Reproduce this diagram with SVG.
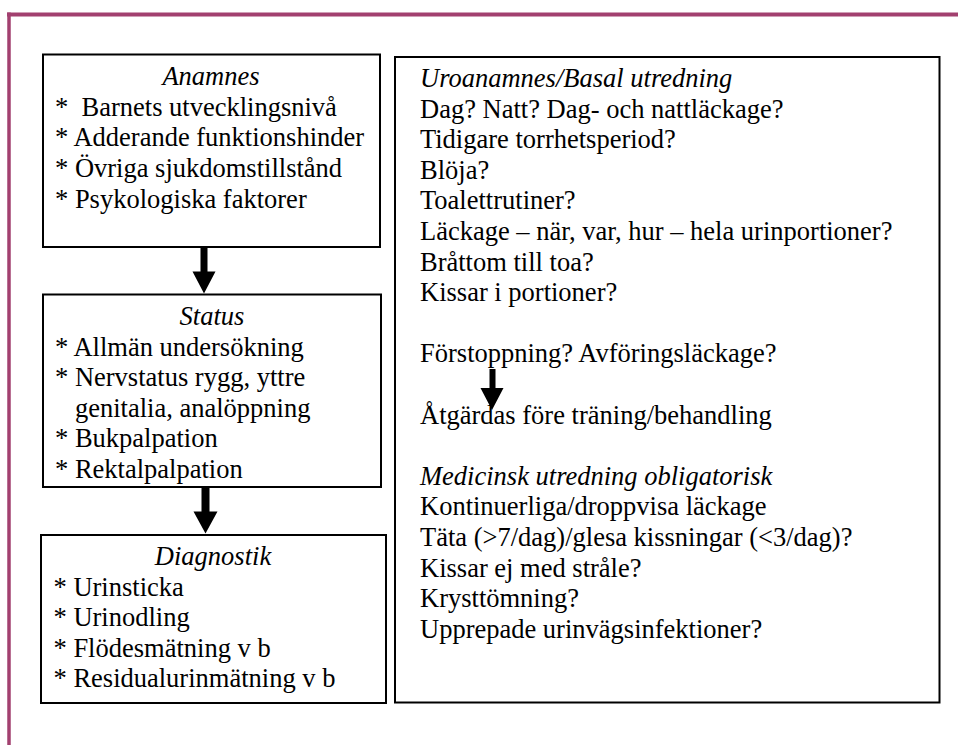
<svg xmlns="http://www.w3.org/2000/svg" width="958" height="745" viewBox="0 0 958 745">
<style>
  text { font-family: "Liberation Serif", "Times New Roman", serif; font-size: 26.5px; fill: #000; }
  .it { font-style: italic; }
  .mid { text-anchor: middle; }
  .box { fill: #fff; stroke: #000; stroke-width: 2; }
  .frame { stroke: #A2406F; fill: none; }
  .arrow { fill: #000; stroke: none; }
</style>
<rect width="958" height="745" fill="#fff"/>
<g id="frame">
  <line class="frame" x1="7" y1="14.5" x2="958" y2="14.5" stroke-width="4"/>
  <line class="frame" x1="9" y1="12.5" x2="9" y2="745" stroke-width="3.5"/>
</g>
<g id="anamnes">
  <rect class="box" x="43" y="54.5" width="337" height="192.5"/>
  <text class="it mid" x="211" y="85">Anamnes</text>
  <text x="55" y="115.6" xml:space="preserve">*  Barnets utvecklingsnivå</text>
  <text x="55" y="146.3">* Adderande funktionshinder</text>
  <text x="55" y="176.9">* Övriga sjukdomstillstånd</text>
  <text x="55" y="207.5">* Psykologiska faktorer</text>
</g>
<g id="status">
  <rect class="box" x="43" y="294.5" width="338" height="192.5"/>
  <text class="it mid" x="212" y="325">Status</text>
  <text x="55" y="355.6">* Allmän undersökning</text>
  <text x="55" y="386.2">* Nervstatus rygg, yttre</text>
  <text x="75" y="416.8">genitalia, analöppning</text>
  <text x="55" y="447.4">* Bukpalpation</text>
  <text x="55" y="478">* Rektalpalpation</text>
</g>
<g id="diagnostik">
  <rect class="box" x="41" y="535" width="345" height="168"/>
  <text class="it mid" x="213" y="565">Diagnostik</text>
  <text x="53.5" y="595.6">* Urinsticka</text>
  <text x="53.5" y="626.2">* Urinodling</text>
  <text x="53.5" y="656.8">* Flödesmätning v b</text>
  <text x="53.5" y="687.4">* Residualurinmätning v b</text>
</g>
<g id="uroanamnes">
  <rect class="box" x="395" y="57" width="544.5" height="645.5"/>
  <text class="it" x="420" y="87">Uroanamnes/Basal utredning</text>
  <text x="420" y="117.6">Dag? Natt? Dag- och nattläckage?</text>
  <text x="420" y="148.2">Tidigare torrhetsperiod?</text>
  <text x="420" y="178.8">Blöja?</text>
  <text x="420" y="209.4">Toalettrutiner?</text>
  <text x="420" y="240">Läckage – när, var, hur – hela urinportioner?</text>
  <text x="420" y="270.6">Bråttom till toa?</text>
  <text x="420" y="301.2">Kissar i portioner?</text>
  <text x="420" y="362.4">Förstoppning? Avföringsläckage?</text>
  <text x="420" y="423.6">Åtgärdas före träning/behandling</text>
  <text class="it" x="420" y="484.8">Medicinsk utredning obligatorisk</text>
  <text x="420" y="515.4">Kontinuerliga/droppvisa läckage</text>
  <text x="420" y="546">Täta (&gt;7/dag)/glesa kissningar (&lt;3/dag)?</text>
  <text x="420" y="576.6">Kissar ej med stråle?</text>
  <text x="420" y="607.2">Krysttömning?</text>
  <text x="420" y="637.8">Upprepade urinvägsinfektioner?</text>
</g>
<g id="connectors">
  <path class="arrow" d="M200.5,247 H207.5 V271.5 H215.5 L204,293.5 L192.5,271.5 H200.5 Z"/>
  <path class="arrow" d="M201.5,487 H209.5 V511.5 H217.5 L205.5,533.5 L193.5,511.5 H201.5 Z"/>
  <path class="arrow" d="M489.5,369 H495.5 V388 H503.5 L492,410 L480.5,388 H489.5 Z"/>
</g>
</svg>
